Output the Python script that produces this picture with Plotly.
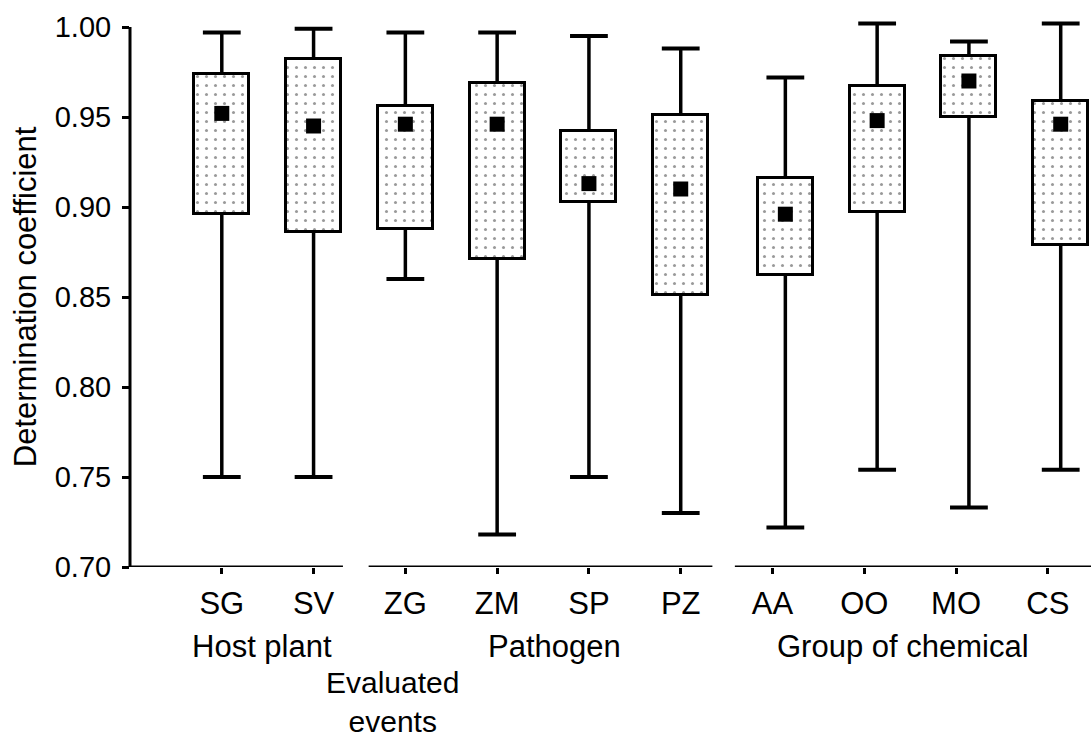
import plotly.graph_objects as go

# ---- data ----
categories = ["SG", "SV", "ZG", "ZM", "SP", "PZ", "AA", "OO", "MO", "CS"]
groups = ["Host plant", "Host plant", "Pathogen", "Pathogen", "Pathogen", "Pathogen",
          "Group of chemical", "Group of chemical", "Group of chemical", "Group of chemical"]
whisker_max = [0.997, 0.999, 0.997, 0.997, 0.995, 0.988, 0.972, 1.002, 0.992, 1.002]
q3 = [0.974, 0.982, 0.956, 0.969, 0.942, 0.951, 0.916, 0.967, 0.984, 0.959]
means = [0.952, 0.945, 0.946, 0.946, 0.913, 0.910, 0.896, 0.948, 0.970, 0.946]
q1 = [0.896, 0.886, 0.888, 0.871, 0.903, 0.851, 0.862, 0.897, 0.950, 0.879]
whisker_min = [0.750, 0.750, 0.860, 0.718, 0.750, 0.730, 0.722, 0.754, 0.733, 0.754]
y_ticks = [0.70, 0.75, 0.80, 0.85, 0.90, 0.95, 1.00]

# ---- styling / layout helpers ----
group_shift = {"Host plant": 0.0, "Pathogen": 0.0, "Group of chemical": 0.14}
tick_pos = list(range(1, len(categories) + 1))
box_pos = [p + group_shift[g] for p, g in zip(tick_pos, groups)]
FONT = "Liberation Sans, Arial, sans-serif"
Y_MIN, Y_AXIS_TOP, Y_MAX = 0.70, 1.00, 1.005

fig = go.Figure()

# boxes (interquartile range) as floating bars with dotted pattern
fig.add_trace(go.Bar(
    x=box_pos, y=[a - b for a, b in zip(q3, q1)], base=q1, width=0.6,
    marker=dict(color="white", line=dict(color="black", width=3),
                pattern=dict(shape=".", fgcolor="#333333", bgcolor="white",
                             size=9, solidity=0.09, fillmode="overlay")),
    showlegend=False, hoverinfo="skip"))

# whiskers
wx, wy = [], []
for x, lo, b1, b3, hi in zip(box_pos, whisker_min, q1, q3, whisker_max):
    wx += [x, x, None, x, x, None]
    wy += [b3, hi, None, b1, lo, None]
fig.add_trace(go.Scatter(x=wx, y=wy, mode="lines", line=dict(color="black", width=3.5),
                         showlegend=False, hoverinfo="skip", cliponaxis=False))
# caps
fig.add_trace(go.Scatter(x=box_pos + box_pos, y=whisker_max + whisker_min, mode="markers",
                         marker=dict(symbol="line-ew", size=27,
                                     line=dict(color="black", width=4)),
                         showlegend=False, hoverinfo="skip", cliponaxis=False))
# means
fig.add_trace(go.Scatter(x=box_pos, y=means, mode="markers",
                         marker=dict(symbol="square", size=15, color="black"),
                         showlegend=False, hoverinfo="skip", cliponaxis=False))

# y-axis line (0.70 .. 1.00) and broken x-axis line segments
fig.add_shape(type="line", xref="paper", yref="y", x0=0, x1=0, y0=Y_MIN, y1=Y_AXIS_TOP,
              line=dict(color="black", width=3))
for x0, x1 in [(-0.02, 2.32), (2.60, 6.345), (6.59, 10.5)]:
    fig.add_shape(type="line", xref="x", yref="y", x0=x0, x1=x1, y0=Y_MIN, y1=Y_MIN,
                  line=dict(color="black", width=3))

# group labels (positions in pixels converted to paper coords)
PLOT_BOTTOM, PLOT_H = 567, (Y_MAX - Y_MIN) * 1800
def py(px):
    return (PLOT_BOTTOM - px) / PLOT_H

label_font = dict(family=FONT, size=31, color="black")
group_centers = {"Host plant": 1.44, "Pathogen": 4.62, "Group of chemical": 8.42}
for name, cx in group_centers.items():
    fig.add_annotation(x=cx, xref="x", y=py(646), yref="paper", text=name,
                       showarrow=False, xanchor="center", yanchor="middle", font=label_font)
fig.add_annotation(x=2.855, xref="x", y=py(702), yref="paper", text="Evaluated<br>events",
                   showarrow=False, xanchor="center", yanchor="middle", align="center",
                   font=dict(family=FONT, size=30, color="black"))
# y title
fig.add_annotation(x=-0.108, xref="paper", y=py(297), yref="paper",
                   text="Determination coefficient",
                   showarrow=False, textangle=-90, xanchor="center", yanchor="middle",
                   font=label_font)

fig.update_layout(
    width=1091, height=740,
    margin=dict(l=130, r=0, t=int(round(740 - 173 - PLOT_H)), b=173),
    paper_bgcolor="white", plot_bgcolor="white",
    font=dict(family=FONT, color="black"),
    bargap=0, showlegend=False,
    xaxis=dict(range=[0, 10.47], tickvals=tick_pos, ticktext=categories,
               showline=False, showgrid=False, zeroline=False,
               ticks="outside", ticklen=6, tickwidth=3, tickcolor="black",
               ticklabelstandoff=3,
               tickfont=dict(family=FONT, size=31, color="black")),
    yaxis=dict(range=[Y_MIN, Y_MAX], tickvals=y_ticks, tickformat=".2f",
               showline=False, showgrid=False, zeroline=False,
               ticks="outside", ticklen=7, tickwidth=3, tickcolor="black",
               ticklabelstandoff=5,
               tickfont=dict(family=FONT, size=29, color="black")),
)

fig.write_html("out.html")
